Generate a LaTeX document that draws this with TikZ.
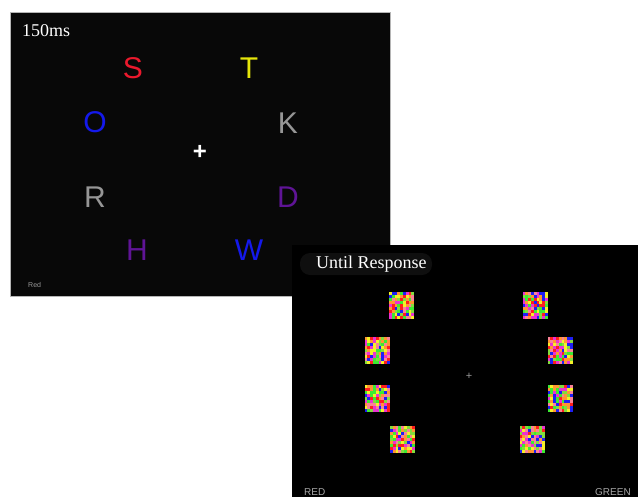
\documentclass[tikz,border=0pt]{standalone}
\usepackage{fontspec}
\setmainfont{Liberation Serif}
\newfontfamily\arialfont{Liberation Sans}
\usepackage{tikz}
\usetikzlibrary{positioning}
\definecolor{panelcol}{RGB}{8,8,8}
\definecolor{badgecol}{RGB}{15,15,15}
\definecolor{redcol}{RGB}{235,25,45}
\definecolor{yelcol}{RGB}{230,230,10}
\definecolor{bluecol}{RGB}{20,25,235}
\definecolor{greycol}{RGB}{150,150,150}
\definecolor{purpcol}{RGB}{95,20,150}
\definecolor{mc1}{RGB}{255,30,30}
\definecolor{mc2}{RGB}{60,235,50}
\definecolor{mc3}{RGB}{30,30,245}
\definecolor{mc4}{RGB}{245,240,40}
\definecolor{mc5}{RGB}{235,50,210}
\definecolor{mc6}{RGB}{255,150,50}
\definecolor{mc7}{RGB}{250,130,150}
\definecolor{mc8}{RGB}{130,220,60}
\tikzset{
  letter/.style={font=\arialfont\fontsize{30}{30}\selectfont, inner sep=0pt},
  label/.style={text=white, font=\fontsize{18}{18}\selectfont, inner sep=0pt},
  small/.style={text=#1, font=\arialfont\fontsize{9}{9}\selectfont, inner sep=0pt}
}
\newcommand{\mosaic}[2]{%
  \foreach \i in {0,...,8}{\foreach \j in {0,...,8}{
    \pgfmathrandominteger{\rc}{1}{8}
    \fill[mc\rc] ({#1+\i*2.8},{#2+\j*3}) rectangle ++(2.8,3);}}}

\begin{document}
\begin{tikzpicture}[x=1pt, y=-1pt]
\clip (0,0) rectangle (638,496);
\fill[white] (0,0) rectangle (638,496);
\filldraw[fill=panelcol, draw=greycol!70, line width=0.8pt] (10,12) rectangle (390,296);
\node[label, anchor=base west] (time1) at (22,36) {150ms};
\node[letter, text=redcol] (s) at (133,68) {S};
\node[letter, text=yelcol] (t) at (249,68) {T};
\node[letter, text=bluecol] (o) at (95,122) {O};
\node[letter, text=greycol] (k) at (288,123) {K};
\node[letter, text=white, font=\arialfont\bfseries\fontsize{24}{24}\selectfont] (fix1) at (200,152) {+};
\node[letter, text=greycol] (r) at (95,197) {R};
\node[letter, text=purpcol] (d) at (288,197) {D};
\node[letter, text=purpcol] (h) at (137,250) {H};
\node[letter, text=bluecol] (w) at (249,250) {W};
\node[small=gray!80, font=\arialfont\fontsize{7}{7}\selectfont, anchor=base west] (resp1) at (28,287) {Red};
\fill[black] (292,245) rectangle (650,510);
\fill[badgecol, rounded corners=10pt] (300,253) rectangle (432,275);
\node[label, anchor=base west] (time2) at (316,268) {Until Response};
\pgfmathsetseed{23}
\foreach \px/\py in {389/291.5, 522.5/291.5, 364.5/336.5, 547.5/336.5,
  364.5/384.5, 547.5/384.5, 390/425.5, 519.5/425.5}
  \mosaic{\px}{\py};
\node[small=gray!80, font=\arialfont\fontsize{11}{11}\selectfont] (fix2) at (469,376) {+};
\node[small=gray!70, font=\arialfont\fontsize{10}{10}\selectfont, anchor=base west] (left2) at (304,495) {RED};
\node[small=gray!70, font=\arialfont\fontsize{10}{10}\selectfont, anchor=base west] (right2) at (595,495) {GREEN};
\end{tikzpicture}
\end{document}
